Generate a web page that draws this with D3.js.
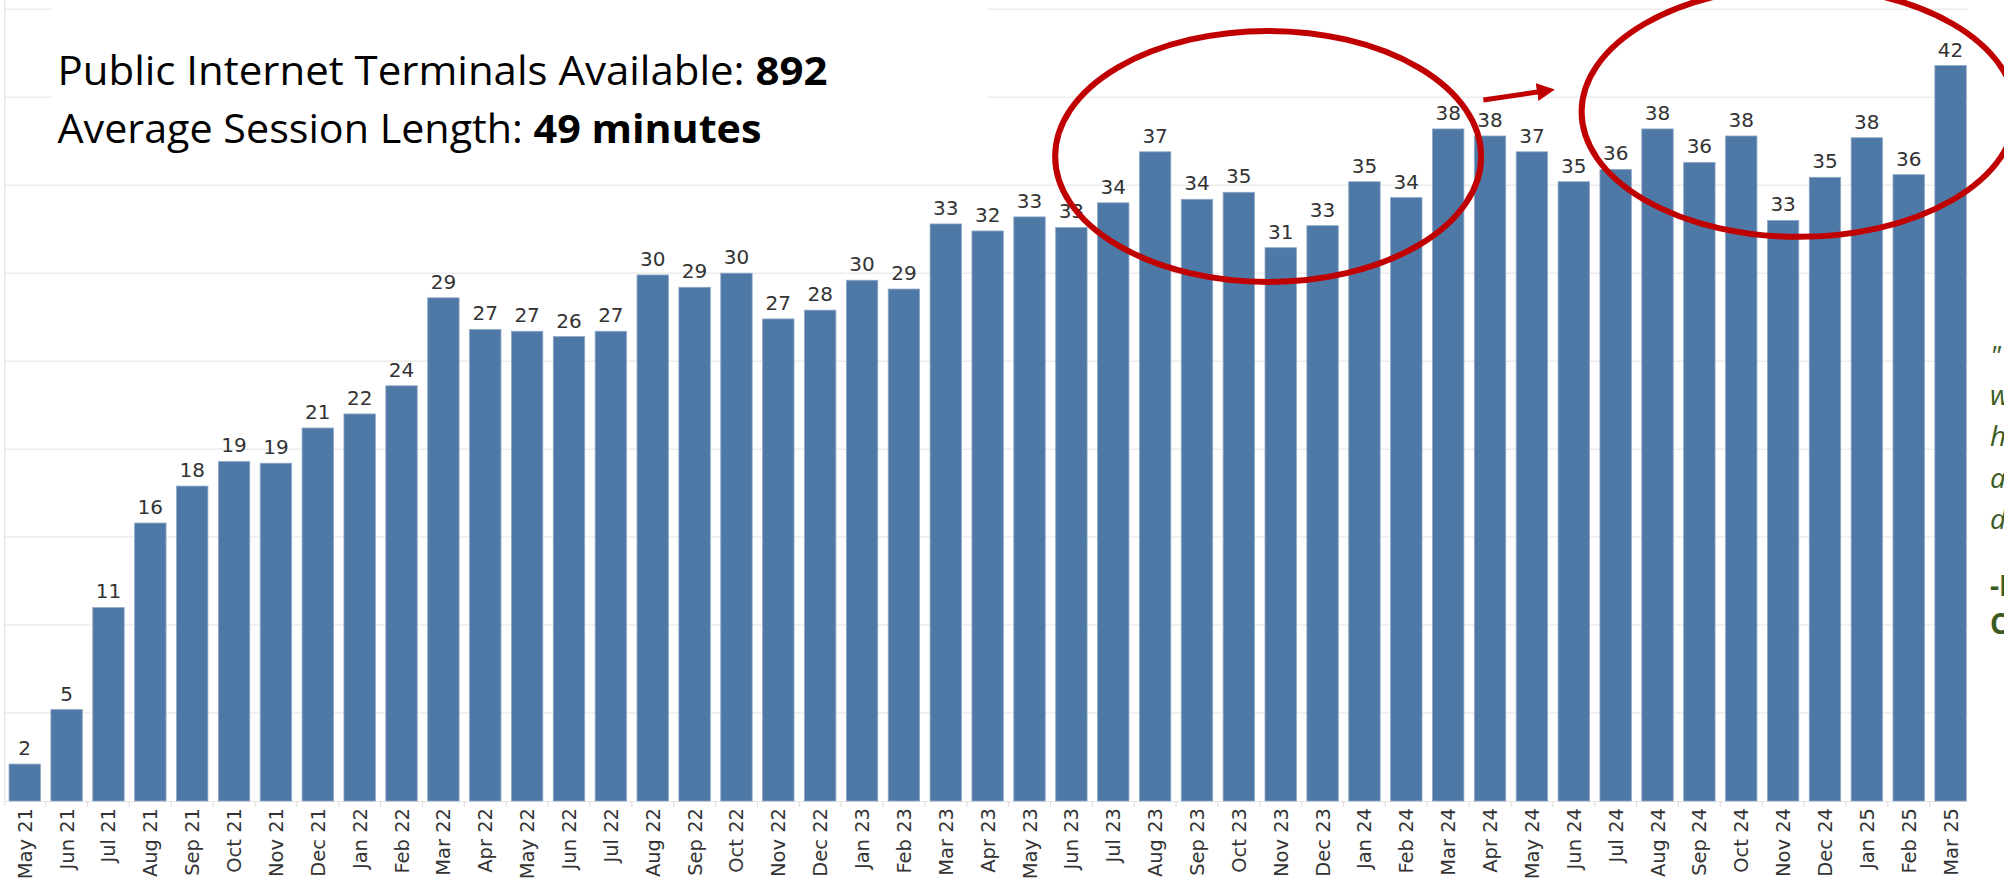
<!DOCTYPE html>
<html>
<head>
<meta charset="utf-8">
<script src="https://cdn.jsdelivr.net/npm/d3@7"></script>
<style>
  body { margin: 0; background: #fff; }
  svg { display: block; }
</style>
</head>
<body>
<svg id="chart"></svg>
<script>
// monthly sessions (thousands)
const months = [
  "May 21","Jun 21","Jul 21","Aug 21","Sep 21","Oct 21","Nov 21","Dec 21",
  "Jan 22","Feb 22","Mar 22","Apr 22","May 22","Jun 22","Jul 22","Aug 22","Sep 22","Oct 22","Nov 22","Dec 22",
  "Jan 23","Feb 23","Mar 23","Apr 23","May 23","Jun 23","Jul 23","Aug 23","Sep 23","Oct 23","Nov 23","Dec 23",
  "Jan 24","Feb 24","Mar 24","Apr 24","May 24","Jun 24","Jul 24","Aug 24","Sep 24","Oct 24","Nov 24","Dec 24",
  "Jan 25","Feb 25","Mar 25"
];
const sessions = [
  2.1, 5.2, 11.0, 15.8, 17.9, 19.3, 19.2, 21.2,
  22.0, 23.6, 28.6, 26.8, 26.7, 26.4, 26.7, 29.9, 29.2, 30.0, 27.4, 27.9,
  29.6, 29.1, 32.8, 32.4, 33.2, 32.6, 34.0, 36.9, 34.2, 34.6, 31.45, 32.7,
  35.2, 34.3, 38.2, 37.8, 36.9, 35.2, 35.9, 38.2, 36.3, 37.8, 33.0, 35.45,
  37.7, 35.6, 41.8
];
const gridTicks = [0, 5, 10, 15, 20, 25, 30, 35, 40, 45];

const titleLines = [
  [{t: "Public Internet Terminals Available: ", b: false}, {t: "892", b: true}],
  [{t: "Average Session Length: ", b: false}, {t: "49 minutes", b: true}]
];
const quoteLines = ["\"", "w", "h", "a", "d", "", "-I", "C"];

// annotations in data space: [month index, value]
const circles = [
  {c: [29.7, 36.64], rx: 213, ry: 125.5},
  {c: [42.37, 39.17], rx: 217, ry: 125}
];
const arrow = {from: [34.84, 39.85], to: [36.59, 40.46]};

const W = 2004, H = 882;
const barColor = "#4e79a7";
const red = "#c00000";

const svg = d3.select("#chart").attr("width", W).attr("height", H);

const x = d3.scaleBand()
  .domain(months)
  .range([3.8, 1971.5])
  .paddingInner(0.25)
  .paddingOuter(0.125);

const y = d3.scaleLinear().domain([0, 45]).range([801, 9.3]);

// index -> pixel center, for annotations
const xi = i => x(months[0]) + x.bandwidth() / 2 + i * x.step();

// gridlines
svg.append("g")
  .selectAll("line")
  .data(gridTicks.slice(1))
  .join("line")
  .attr("x1", 4.7).attr("x2", 1968)
  .attr("y1", d => y(d)).attr("y2", d => y(d))
  .attr("stroke", "#ececec")
  .attr("stroke-width", 1.5);

// pane border + baseline
svg.append("line")
  .attr("x1", 4.7).attr("x2", 4.7).attr("y1", 0).attr("y2", 806)
  .attr("stroke", "#e6e6e6").attr("stroke-width", 1.2);
svg.append("line")
  .attr("x1", 4.7).attr("x2", 1968).attr("y1", y(0) + 0.5).attr("y2", y(0) + 0.5)
  .attr("stroke", "#e6e6e6").attr("stroke-width", 1);

// header dividers between months
svg.append("g")
  .selectAll("line")
  .data(months.slice(1))
  .join("line")
  .attr("x1", d => x(d) - x.step() * x.paddingInner() / 2)
  .attr("x2", d => x(d) - x.step() * x.paddingInner() / 2)
  .attr("y1", y(0)).attr("y2", y(0) + 6)
  .attr("stroke", "#e0e0e0").attr("stroke-width", 1.2);

// white box behind the title
svg.append("rect")
  .attr("x", 52).attr("y", 0).attr("width", 935).attr("height", 170)
  .attr("fill", "#fff");

// bars
svg.append("g")
  .selectAll("rect")
  .data(sessions)
  .join("rect")
  .attr("x", (d, i) => x(months[i]))
  .attr("y", d => y(d))
  .attr("width", x.bandwidth())
  .attr("height", d => y(0) - y(d))
  .attr("fill", barColor)
  .attr("stroke", "#8fa8c6")
  .attr("stroke-width", 0.8);

// value labels
svg.append("g")
  .style("font", "20px 'DejaVu Sans'")
  .attr("fill", "#333")
  .attr("text-anchor", "middle")
  .selectAll("text")
  .data(sessions)
  .join("text")
  .attr("x", (d, i) => x(months[i]) + x.bandwidth() / 2)
  .attr("y", d => y(d) - 9)
  .text(d => Math.round(d));

// month labels, rotated
svg.append("g")
  .style("font", "19.5px 'DejaVu Sans'")
  .attr("fill", "#333")
  .attr("text-anchor", "end")
  .selectAll("text")
  .data(months)
  .join("text")
  .attr("transform", d => `translate(${x(d) + x.bandwidth() / 2},${y(0) + 7}) rotate(-90)`)
  .attr("dy", "0.36em")
  .text(d => d);

// red ellipses
svg.append("g")
  .selectAll("ellipse")
  .data(circles)
  .join("ellipse")
  .attr("cx", d => xi(d.c[0]))
  .attr("cy", d => y(d.c[1]))
  .attr("rx", d => d.rx)
  .attr("ry", d => d.ry)
  .attr("fill", "none")
  .attr("stroke", red)
  .attr("stroke-width", 6);

// arrow
svg.append("defs").append("marker")
  .attr("id", "head")
  .attr("viewBox", "0 0 10 10")
  .attr("refX", 1).attr("refY", 5)
  .attr("markerWidth", 3.6).attr("markerHeight", 3.6)
  .attr("markerUnits", "strokeWidth")
  .attr("orient", "auto")
  .append("path")
  .attr("d", "M0,0L10,5L0,10Z")
  .attr("fill", red);

const ax1 = xi(arrow.from[0]), ay1 = y(arrow.from[1]);
const ax2 = xi(arrow.to[0]), ay2 = y(arrow.to[1]);
const alen = Math.hypot(ax2 - ax1, ay2 - ay1);
const headLen = 18;
svg.append("line")
  .attr("x1", ax1).attr("y1", ay1)
  .attr("x2", ax1 + (ax2 - ax1) * (alen - headLen) / alen)
  .attr("y2", ay1 + (ay2 - ay1) * (alen - headLen) / alen)
  .attr("stroke", red)
  .attr("stroke-width", 5)
  .attr("marker-end", "url(#head)");

// title block
const titleTargets = [770, 704];
const titleBase = [85, 143.3];
titleLines.forEach((line, i) => {
  const t = svg.append("text")
    .attr("x", 57.5)
    .attr("y", titleBase[i])
    .style("font-family", "'Open Sans'")
    .style("font-size", "40px")
    .attr("fill", "#000");
  line.forEach(p => t.append("tspan")
    .attr("font-weight", p.b ? "bold" : "normal")
    .text(p.t));
  t.attr("textLength", titleTargets[i]).attr("lengthAdjust", "spacingAndGlyphs");
});

// quote on the right, cut off by the page edge as in the original
const quoteBase = [366, 405, 446, 488, 529, 0, 596, 634];
svg.append("g")
  .attr("fill", "#3b5a1f")
  .style("font-family", "'Open Sans'")
  .style("font-size", "28px")
  .selectAll("text")
  .data(quoteLines.map((t, i) => ({t, i})).filter(d => d.t))
  .join("text")
  .attr("x", 1990)
  .attr("y", d => quoteBase[d.i])
  .attr("font-style", d => d.i < 6 ? "italic" : "normal")
  .attr("font-weight", d => d.i < 6 ? "normal" : "bold")
  .text(d => d.t);
</script>
</body>
</html>
